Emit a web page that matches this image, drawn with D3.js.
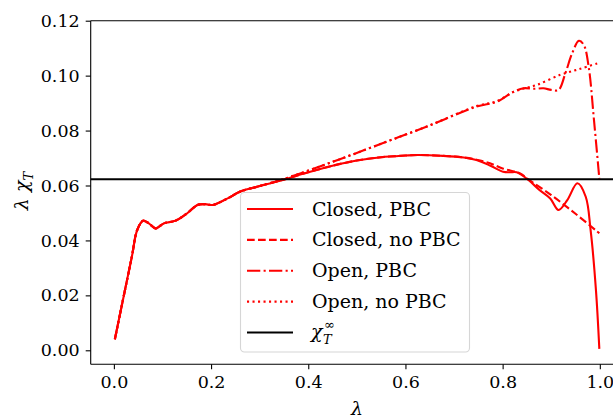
<!DOCTYPE html>
<html>
<head>
<meta charset="utf-8">
<script src="https://cdn.jsdelivr.net/npm/d3@7"></script>
<style>
  body { margin: 0; background: #fff; }
  text { font-family: 'DejaVu Serif', serif; fill: #000; }
</style>
</head>
<body>
<div id="chart"></div>
<script>
// values
const closedPbcL = [0.002, 0.02, 0.037, 0.048, 0.06, 0.072, 0.0857, 0.103, 0.127, 0.151, 0.172, 0.188, 0.203, 0.234, 0.259, 0.3, 0.345, 0.4, 0.45, 0.5, 0.55, 0.6, 0.625, 0.677, 0.72, 0.746, 0.775, 0.801, 0.815, 0.829, 0.853, 0.875, 0.898, 0.915, 0.933, 0.954, 0.971, 0.981, 0.992, 0.999]
const closedPbcV = [0.004, 0.0195, 0.0341, 0.0438, 0.0472, 0.0462, 0.0444, 0.0462, 0.0472, 0.0499, 0.0529, 0.0532, 0.0529, 0.0553, 0.0577, 0.0598, 0.0619, 0.0648, 0.0672, 0.0691, 0.0703, 0.0709, 0.0711, 0.0708, 0.0702, 0.0693, 0.0672, 0.065, 0.0648, 0.0648, 0.062, 0.0585, 0.0553, 0.0511, 0.0547, 0.0608, 0.0559, 0.0438, 0.022, 0.0005]

const closedNoPbcL = [0.002, 0.02, 0.037, 0.048, 0.06, 0.072, 0.0857, 0.103, 0.127, 0.151, 0.172, 0.188, 0.203, 0.234, 0.259, 0.3, 0.345, 0.4, 0.45, 0.5, 0.55, 0.6, 0.625, 0.677, 0.72, 0.746, 0.774, 0.8, 0.836, 0.853, 0.9, 0.95, 0.999]
const closedNoPbcV = [0.004, 0.0195, 0.0341, 0.0438, 0.0472, 0.0462, 0.0444, 0.0462, 0.0472, 0.0499, 0.0529, 0.0532, 0.0529, 0.0553, 0.0577, 0.0598, 0.0619, 0.0648, 0.0672, 0.0691, 0.0703, 0.0709, 0.0711, 0.0708, 0.0702, 0.0694, 0.0681, 0.0662, 0.0644, 0.0622, 0.0565, 0.0497, 0.0426]

const openPbcL = [0.002, 0.02, 0.037, 0.048, 0.06, 0.072, 0.0857, 0.103, 0.127, 0.151, 0.172, 0.188, 0.203, 0.234, 0.259, 0.3, 0.345, 0.45, 0.55, 0.65, 0.746, 0.788, 0.822, 0.843, 0.865, 0.884, 0.9, 0.915, 0.929, 0.943, 0.957, 0.967, 0.977, 0.988, 0.999]
const openPbcV = [0.004, 0.0195, 0.0341, 0.0438, 0.0472, 0.0462, 0.0444, 0.0462, 0.0472, 0.0499, 0.0529, 0.0532, 0.0529, 0.0553, 0.0577, 0.0598, 0.0621, 0.0686, 0.0752, 0.0819, 0.0887, 0.0905, 0.0941, 0.0954, 0.0952, 0.0954, 0.0948, 0.0948, 0.1008, 0.1081, 0.1127, 0.1112, 0.1033, 0.0838, 0.0625]

const openNoPbcL = [0.002, 0.02, 0.037, 0.048, 0.06, 0.072, 0.0857, 0.103, 0.127, 0.151, 0.172, 0.188, 0.203, 0.234, 0.259, 0.3, 0.345, 0.45, 0.55, 0.65, 0.746, 0.788, 0.822, 0.843, 0.87, 0.919, 0.96, 0.999]
const openNoPbcV = [0.004, 0.0195, 0.0341, 0.0438, 0.0472, 0.0462, 0.0444, 0.0462, 0.0472, 0.0499, 0.0529, 0.0532, 0.0529, 0.0553, 0.0577, 0.0598, 0.0621, 0.0686, 0.0752, 0.0819, 0.0889, 0.0907, 0.094, 0.0953, 0.0966, 0.1003, 0.1025, 0.1047]

const chiInf = 0.0623

const xTicks = [0.0, 0.2, 0.4, 0.6, 0.8, 1.0]
const yTicks = [0.0, 0.02, 0.04, 0.06, 0.08, 0.1, 0.12]

const series = [
  { name: 'Closed, PBC', l: closedPbcL, v: closedPbcV, dash: null },
  { name: 'Closed, no PBC', l: closedNoPbcL, v: closedNoPbcV, dash: '7.7,3.3' },
  { name: 'Open, PBC', l: openPbcL, v: openPbcV, dash: '13.3,3.3,2.1,3.3' },
  { name: 'Open, no PBC', l: openNoPbcL, v: openNoPbcV, dash: '2.1,3.4' }
]

const width = 613
const height = 415
const margin = { top: 20.7, left: 90.7, right: -10, bottom: 50.7 }

const svg = d3
  .select('#chart')
  .append('svg')
  .attr('width', width)
  .attr('height', height)

const x = d3
  .scaleLinear()
  .domain([-0.0477, 1.0477])
  .range([margin.left, width - margin.right])

const y = d3
  .scaleLinear()
  .domain([-0.0051, 0.12])
  .range([height - margin.bottom, margin.top])

const line = d3
  .line()
  .x(d => x(d[0]))
  .y(d => y(d[1]))
  .curve(d3.curveCatmullRom.alpha(0.5))

svg
  .append('g')
  .selectAll('path')
  .data(series)
  .enter()
  .append('path')
  .attr('d', d => line(d.l.map((l, i) => [l, d.v[i]])))
  .attr('fill', 'none')
  .attr('stroke', '#ff0000')
  .attr('stroke-width', 2.1)
  .attr('stroke-dasharray', d => d.dash)

// chi_T infinity
svg
  .append('line')
  .attr('x1', x.range()[0])
  .attr('x2', x.range()[1])
  .attr('y1', y(chiInf))
  .attr('y2', y(chiInf))
  .attr('stroke', '#000')
  .attr('stroke-width', 2.1)

// axes
const xAxis = svg
  .append('g')
  .attr('transform', `translate(0,${y.range()[0]})`)
  .call(d3.axisBottom(x).tickValues(xTicks).tickFormat(d3.format('.1f')).tickSize(5).tickPadding(6))

const yAxis = svg
  .append('g')
  .attr('transform', `translate(${x.range()[0]},0)`)
  .call(d3.axisLeft(y).tickValues(yTicks).tickFormat(d3.format('.2f')).tickSize(5).tickPadding(6))

svg.selectAll('.domain').attr('stroke-width', 1.1).attr('d', null)
xAxis.select('.domain').attr('d', `M${x.range()[0]},0H${x.range()[1]}`)
yAxis.select('.domain').attr('d', `M0,${y.range()[0]}V${y.range()[1]}`)
svg.selectAll('.tick line').attr('stroke-width', 1.1)
svg.selectAll('.tick text').style('font-family', "'DejaVu Serif', serif").style('font-size', '17.5px')

// top spine
svg
  .append('line')
  .attr('x1', x.range()[0])
  .attr('x2', x.range()[1])
  .attr('y1', y.range()[1])
  .attr('y2', y.range()[1])
  .attr('stroke', '#000')
  .attr('stroke-width', 1.1)

// axis labels
svg
  .append('text')
  .attr('x', 357)
  .attr('y', 415)
  .attr('text-anchor', 'middle')
  .style('font-size', '19px')
  .style('font-style', 'italic')
  .text('λ')

const yLabel = svg
  .append('text')
  .attr('transform', 'translate(28,191) rotate(-90)')
  .attr('text-anchor', 'middle')
  .style('font-size', '19px')
  .style('font-style', 'italic')
yLabel.append('tspan').text('λ χ')
yLabel.append('tspan').attr('dy', 5).style('font-size', '13px').text('T')

// legend
const legend = svg.append('g').attr('transform', 'translate(240,192)')

legend
  .append('rect')
  .attr('x', 0.5)
  .attr('y', 0.5)
  .attr('width', 229)
  .attr('height', 159.5)
  .attr('rx', 4)
  .attr('fill', '#fff')
  .attr('fill-opacity', 0.8)
  .attr('stroke', '#d6d6d6')
  .attr('stroke-width', 1.1)

const rowY = d3.scaleLinear().domain([0, 4]).range([17, 140.5])

const rows = legend
  .selectAll('.row')
  .data(series.concat([{ name: null, dash: null, black: true }]))
  .enter()
  .append('g')
  .attr('class', 'row')
  .attr('transform', (d, i) => `translate(0,${rowY(i)})`)

rows
  .append('line')
  .attr('x1', 7)
  .attr('x2', 53)
  .attr('stroke', d => (d.black ? '#000' : '#ff0000'))
  .attr('stroke-width', 2.1)
  .attr('stroke-dasharray', d => d.dash)

rows
  .filter(d => d.name)
  .append('text')
  .attr('x', 72)
  .attr('y', 6.5)
  .style('font-size', '19px')
  .text(d => d.name)

// chi_T^infinity: symbol, subscript and superscript as separate texts
const chiRow = rows.filter(d => d.black)
chiRow
  .append('text')
  .attr('x', 71)
  .attr('y', 5)
  .style('font-size', '19px')
  .style('font-style', 'italic')
  .text('χ')
chiRow
  .append('text')
  .attr('x', 83)
  .attr('y', 11)
  .style('font-size', '13px')
  .style('font-style', 'italic')
  .text('T')
chiRow
  .append('text')
  .attr('x', 84)
  .attr('y', -4)
  .style('font-size', '13px')
  .text('∞')
</script>
</body>
</html>
